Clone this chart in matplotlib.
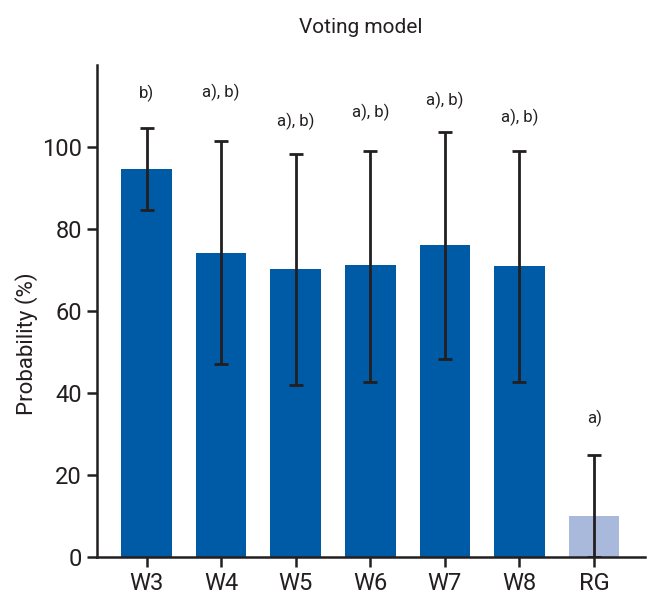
import matplotlib.pyplot as plt

plt.rcParams['font.family'] = ['Roboto', 'DejaVu Sans']

groups = ["W3", "W4", "W5", "W6", "W7", "W8", "RG"]
prob = [94.7, 74.2, 70.1, 71.1, 76.0, 70.9, 9.9]
err_low = [84.6, 47.0, 41.9, 42.7, 48.2, 42.7, 0.0]
err_high = [104.6, 101.5, 98.2, 99.0, 103.7, 99.0, 24.8]
marks = ["b)", "a), b)", "a), b)", "a), b)", "a), b)", "a), b)", "a)"]
mark_y = [113.1, 113.3, 106.3, 108.4, 111.3, 107.1, 33.8]

DARK = "#231f20"
colors = ["#005ba6"] * 6 + ["#a9b9dc"]

fig = plt.figure(figsize=(6.62, 6.12), dpi=100)
ax = fig.add_axes([0.147, 0.0904, 0.827, 0.8036])

x = list(range(len(groups)))
ax.bar(x, prob, width=0.68, color=colors, zorder=1)

lower = [p - lo for p, lo in zip(prob, err_low)]
upper = [hi - p for p, hi in zip(prob, err_high)]
ax.errorbar(x, prob, yerr=[lower, upper], fmt="none", ecolor=DARK,
            elinewidth=2, capsize=5, capthick=2, zorder=2)

for xi, m, my in zip(x, marks, mark_y):
    ax.text(xi, my, m, ha="center", va="center", fontsize=12, color=DARK)

ax.set_xlim(-0.66, 6.68)
ax.set_ylim(0, 120)
ax.set_yticks([0, 20, 40, 60, 80, 100])
ax.set_xticks(x)
ax.set_xticklabels(groups)

for side in ["top", "right"]:
    ax.spines[side].set_visible(False)
for side in ["left", "bottom"]:
    ax.spines[side].set_linewidth(1.8)
    ax.spines[side].set_color(DARK)

ax.tick_params(axis="both", direction="out", length=7, width=1.8,
               color=DARK, labelcolor=DARK, labelsize=17, pad=4)

# y label sits a bit below the axes middle in the original
fig.text(0.04, 0.438, "Probability (%)", rotation=90, ha="center",
         va="center", fontsize=16, color=DARK)
fig.text(0.545, 0.955, "Voting model", ha="center", va="center",
         fontsize=15, color=DARK)

fig.savefig("out.png", dpi=100)
